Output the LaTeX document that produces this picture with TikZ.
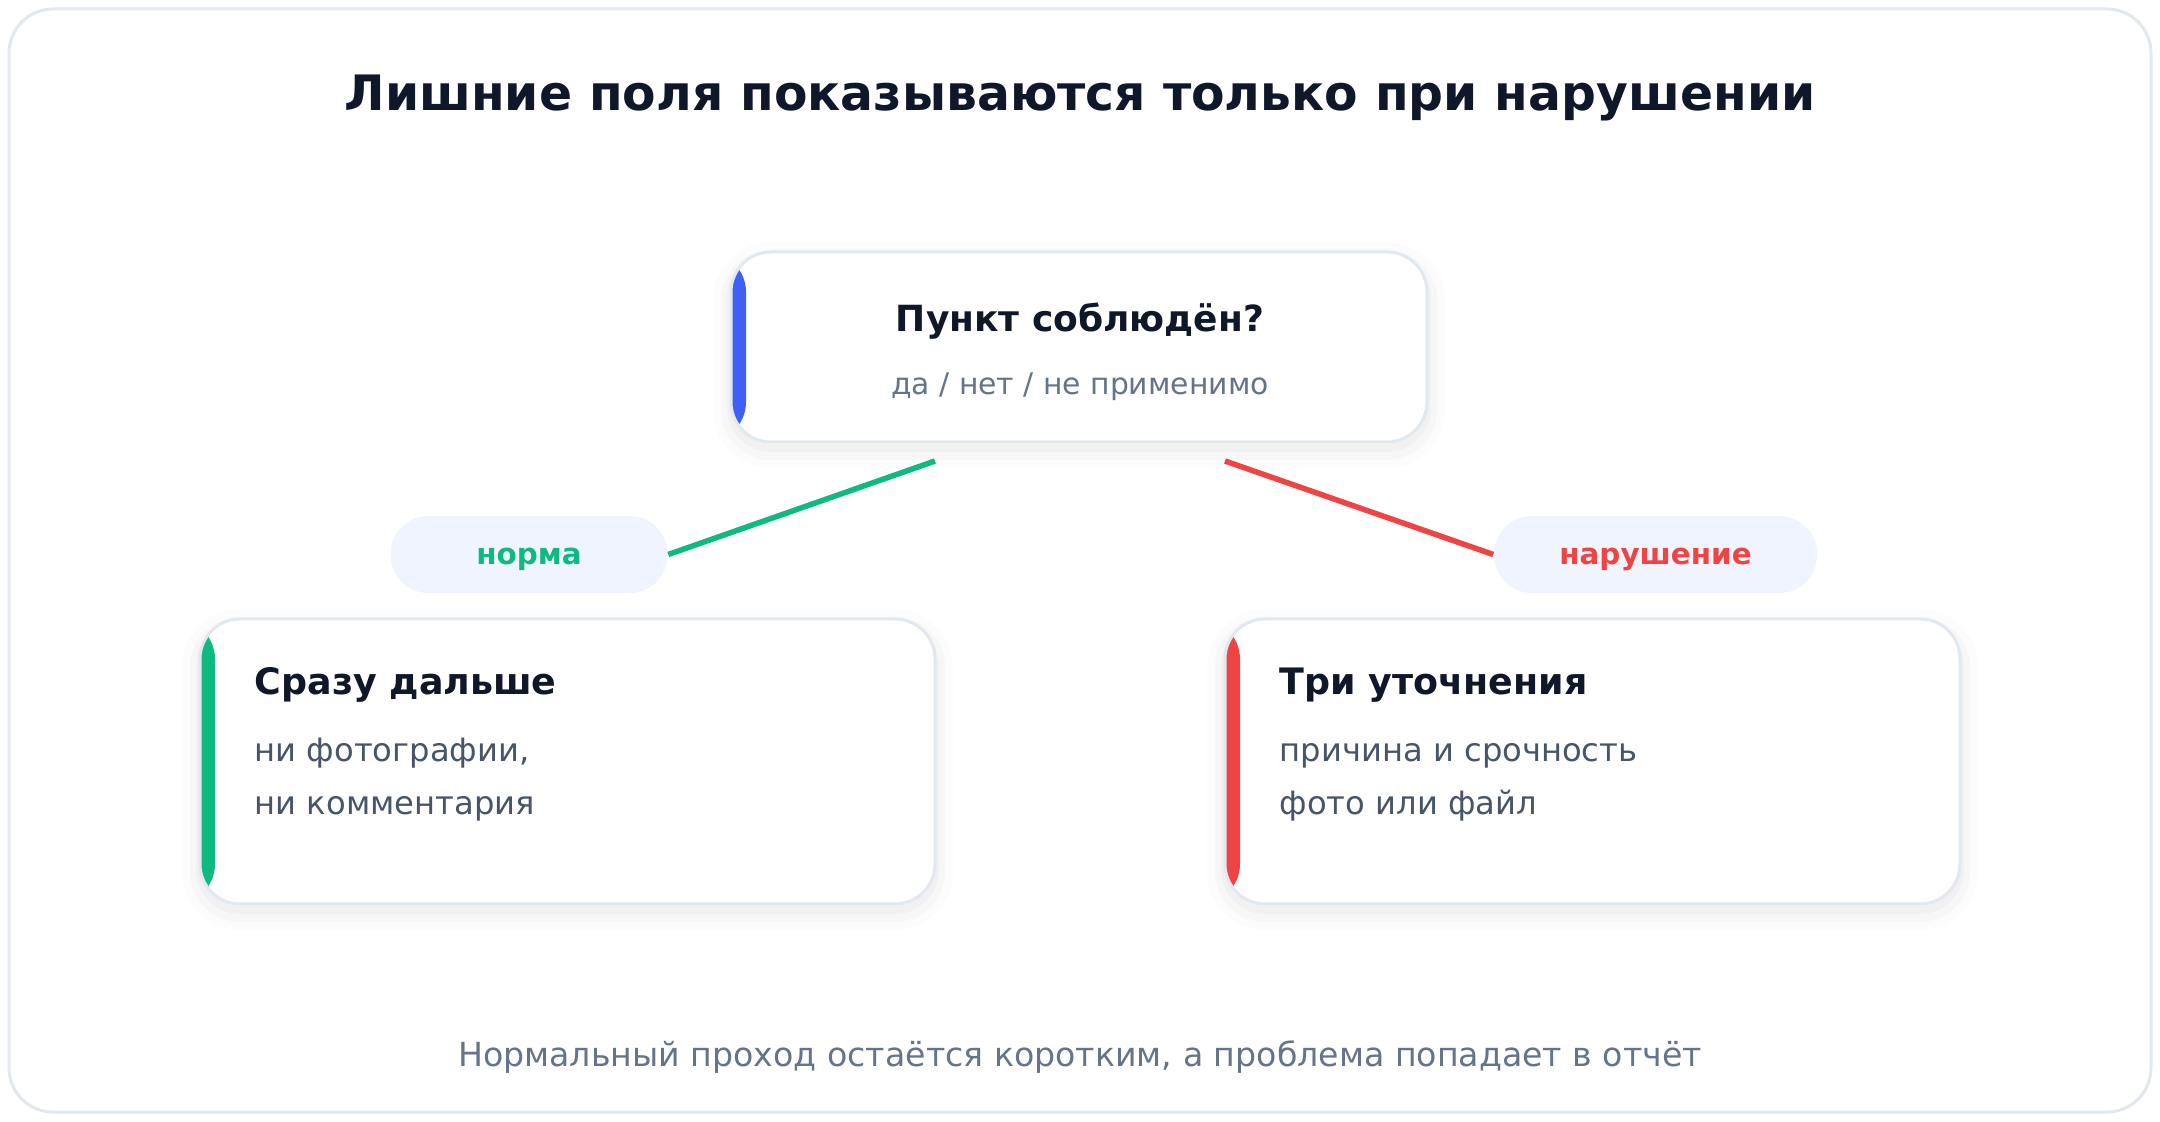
\documentclass[tikz,border=0pt]{standalone}
\usepackage{fontspec}
\setmainfont{DejaVu Sans}

\definecolor{inkc}{HTML}{0F172A}
\definecolor{greyc}{HTML}{64748B}
\definecolor{bodyc}{HTML}{475569}
\definecolor{linec}{HTML}{E2E8F0}
\definecolor{pillc}{HTML}{EFF4FE}
\definecolor{bluec}{HTML}{4060F5}
\definecolor{greenc}{HTML}{10B981}
\definecolor{redc}{HTML}{EF4444}

\tikzset{every picture/.style={line width=0.75pt}}
\tikzset{
  card/.style={draw=linec, line width=1.5pt, fill=white, rounded corners=20pt,
    preaction={draw=black, draw opacity=0.012, line width=18pt, transform canvas={yshift=-4pt}},
    preaction={draw=black, draw opacity=0.018, line width=10pt, transform canvas={yshift=-4pt}},
    preaction={draw=black, draw opacity=0.025, line width=4pt, transform canvas={yshift=-3pt}}},
  accent/.style={path picture={\fill[#1] (path picture bounding box.north west) rectangle ([xshift=7.5pt]path picture bounding box.south west);}},
  pill/.style={fill=pillc, rounded corners=19pt, minimum width=138.5pt, minimum height=38.5pt,
    text height=12pt, text depth=1.5pt, font=\fontsize{14.7}{18}\selectfont\bfseries},
  headtxt/.style={inner sep=0pt, text=inkc, font=\fontsize{18.2}{22}\selectfont\bfseries},
  bodytxt/.style={inner sep=0pt, text=bodyc, font=\fontsize{16.1}{19}\selectfont},
  link/.style={line width=2.75pt}
}

\begin{document}
\begin{tikzpicture}[x=0.5pt,y=0.5pt,yscale=-1,xscale=1]
\useasboundingbox (0,0) rectangle (2160,1122);

%Shape: Frame
\draw [linec, line width=1.5pt, fill=white, rounded corners=22pt] (9,9) rectangle (2151,1112);

% Text Node
\node [inner sep=0pt, anchor=base, text=inkc, font=\fontsize{24.4}{29}\selectfont\bfseries] (title) at (1080,111) {Лишние поля показываются только при нарушении};

%Shape: Cards
\node [card, accent=bluec, minimum width=348pt, minimum height=95pt] (check) at (1079,347) {};
\node [card, accent=greenc, minimum width=367.5pt, minimum height=142.5pt] (pass) at (567.5,761.5) {};
\node [card, accent=redc, minimum width=367.5pt, minimum height=142.5pt] (fail) at (1592.5,761.5) {};

% Text Node
\node [headtxt, anchor=base, font=\fontsize{18}{22}\selectfont\bfseries] (checkhead) at (1080,332) {Пункт соблюдён?};
\node [bodytxt, anchor=base, text=greyc, font=\fontsize{14.9}{18}\selectfont] (checksub) at (1080,395) {да / нет / не применимо};
% Text Node
\node [headtxt, anchor=base west] (passhead) at (254,695) {Сразу дальше};
\node [bodytxt, anchor=base west] (passa) at (254,762) {ни фотографии,};
\node [bodytxt, anchor=base west] (passb) at (254,815) {ни комментария};
% Text Node
\node [headtxt, anchor=base west] (failhead) at (1279,695) {Три уточнения};
\node [bodytxt, anchor=base west] (faila) at (1279,762) {причина и срочность};
\node [bodytxt, anchor=base west] (failb) at (1279,815) {фото или файл};

%Shape: Pills
\node [pill, text=greenc] (norm) at (529,554.5) {норма};
\node [pill, text=redc, minimum width=161.5pt] (breach) at (1655.5,554.5) {нарушение};

%Straight Lines
\coordinate (normfrom) at (935,461);
\coordinate (breachfrom) at (1225,461);
\draw [link, greenc] (normfrom) -- (norm.east);
\draw [link, redc] (breachfrom) -- (breach.west);

% Text Node
\node [inner sep=0pt, anchor=base, text=greyc, font=\fontsize{16.6}{20}\selectfont] (footer) at (1080,1066) {Нормальный проход остаётся коротким, а проблема попадает в отчёт};

\end{tikzpicture}
\end{document}
